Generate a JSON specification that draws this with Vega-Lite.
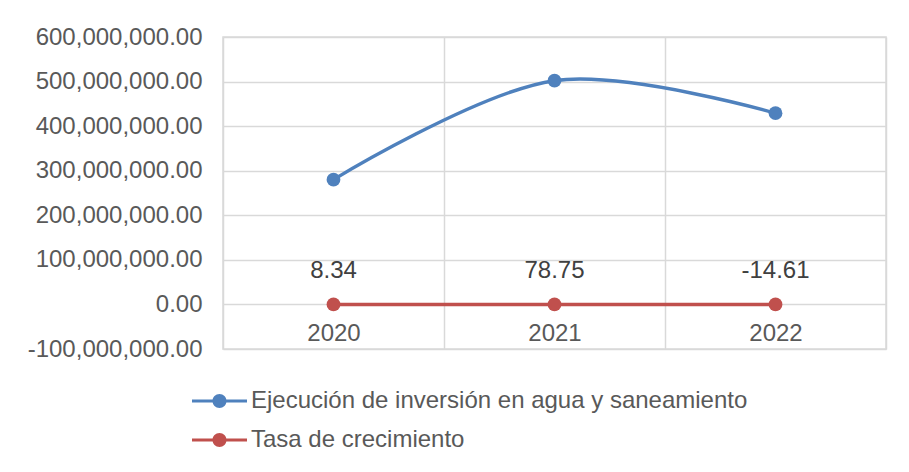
{
  "$schema": "https://vega.github.io/schema/vega-lite/v6.json",
  "width": 663,
  "height": 312,
  "autosize": {"type": "none"},
  "padding": {"left": 223, "top": 37, "right": 23, "bottom": 123},
  "background": "white",
  "config": {
    "font": "Liberation Sans",
    "view": {"stroke": "#d9d9d9", "strokeWidth": 1.5}
  },
  "data": {
    "values": [
      {"year": "2020", "series": "Ejecución de inversión en agua y saneamiento", "value": 280000000},
      {"year": "2021", "series": "Ejecución de inversión en agua y saneamiento", "value": 502000000},
      {"year": "2022", "series": "Ejecución de inversión en agua y saneamiento", "value": 429000000},
      {"year": "2020", "series": "Tasa de crecimiento", "value": 8.34},
      {"year": "2021", "series": "Tasa de crecimiento", "value": 78.75},
      {"year": "2022", "series": "Tasa de crecimiento", "value": -14.61}
    ]
  },
  "encoding": {
    "x": {
      "field": "year",
      "type": "ordinal",
      "scale": {"type": "band", "paddingInner": 0, "paddingOuter": 0},
      "axis": {
        "title": null,
        "tickBand": "extent",
        "grid": true,
        "gridColor": "#d9d9d9",
        "gridWidth": 1.5,
        "domain": false,
        "ticks": false,
        "tickSize": 0,
        "offset": -44,
        "labelPadding": 16,
        "labelAngle": 0,
        "labelFontSize": 24,
        "labelColor": "#595959"
      }
    },
    "y": {
      "field": "value",
      "type": "quantitative",
      "scale": {"domain": [-100000000, 600000000], "nice": false, "zero": false},
      "axis": {
        "title": null,
        "values": [-100000000, 0, 100000000, 200000000, 300000000, 400000000, 500000000, 600000000],
        "labelExpr": "replace(format(datum.value, ',.2f'), '\u2212', '-')",
        "grid": true,
        "gridColor": "#d9d9d9",
        "gridWidth": 1.5,
        "domain": false,
        "ticks": false,
        "tickSize": 0,
        "labelPadding": 21,
        "labelFontSize": 24,
        "labelColor": "#595959"
      }
    }
  },
  "layer": [
    {
      "mark": {"type": "line", "interpolate": "catmull-rom", "strokeWidth": 3.5, "point": {"filled": true, "size": 190, "opacity": 1}},
      "encoding": {
        "color": {
          "field": "series",
          "type": "nominal",
          "scale": {
            "domain": ["Ejecución de inversión en agua y saneamiento", "Tasa de crecimiento"],
            "range": ["#4F81BD", "#C0504D"]
          },
          "legend": {
            "orient": "none",
            "legendX": -15.5,
            "legendY": 352,
            "direction": "vertical",
            "title": null,
            "padding": 0,
            "symbolType": "M-2.75,-0.15L2.75,-0.15L2.75,0.15L-2.75,0.15Z M-0.7,0A0.7,0.7 0 1,1 0.7,0A0.7,0.7 0 1,1 -0.7,0Z",
            "symbolSize": 400,
            "symbolStrokeWidth": 0,
            "labelOffset": 19.5,
            "labelFontSize": 24,
            "labelColor": "#595959",
            "labelLimit": 800,
            "rowPadding": 15,
            "symbolOpacity": 1,
            "encode": {
              "symbols": {
                "update": {
                  "fill": {"scale": "color", "field": "value"},
                  "strokeWidth": {"value": 0},
                  "opacity": {"value": 1}
                }
              }
            }
          }
        }
      }
    },
    {
      "transform": [
        {"filter": "datum.series === 'Tasa de crecimiento'"},
        {"calculate": "replace(format(datum.value, '.2f'), '\u2212', '-')", "as": "label"}
      ],
      "mark": {"type": "text", "dy": -33, "fontSize": 24, "color": "#404040", "baseline": "middle"},
      "encoding": {
        "text": {"field": "label", "type": "nominal"}
      }
    }
  ]
}
